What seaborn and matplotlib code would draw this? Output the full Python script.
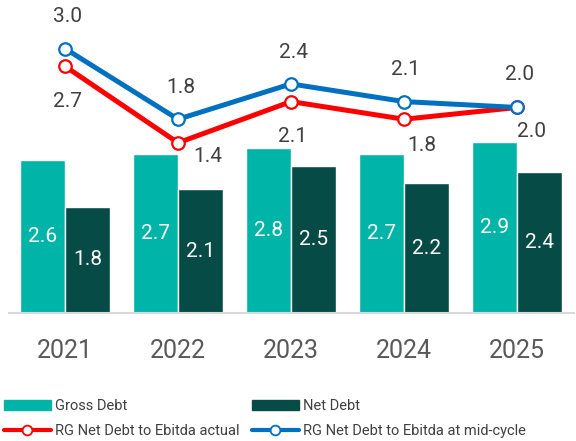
import numpy as np
import pandas as pd
import matplotlib
matplotlib.use("Agg")
import matplotlib.pyplot as plt
import seaborn as sns
from matplotlib.lines import Line2D
from matplotlib.patches import Patch

years = ["2021", "2022", "2023", "2024", "2025"]
gross_debt = [2.6, 2.7, 2.8, 2.7, 2.9]
net_debt = [1.8, 2.1, 2.5, 2.2, 2.4]
ratio_actual = [2.7, 1.4, 2.1, 1.8, 2.0]
ratio_midcycle = [3.0, 1.8, 2.4, 2.1, 2.0]

GROSS = "#00B5A8"
NET = "#064B45"
RED = "#FF0000"
BLUE = "#0070C0"
TXT = "#404040"

sns.set_style("white")
plt.rcParams["font.family"] = ["Roboto", "DejaVu Sans"]

bars = pd.DataFrame({
    "Year": years * 2,
    "Value": gross_debt + net_debt,
    "Series": ["Gross Debt"] * 5 + ["Net Debt"] * 5,
})

fig = plt.figure(figsize=(5.76, 4.41), dpi=100)
ax = fig.add_axes([8.5 / 576, 1 - 313 / 441, 565 / 576, 308 / 441])

sns.barplot(data=bars, x="Year", y="Value", hue="Series", palette=[GROSS, NET],
            width=0.8, saturation=1, legend=False, ax=ax)
ax.set_xlim(-0.5, 4.5)
ax.set_ylim(0, 5.23)
for c in ax.containers:
    ax.bar_label(c, fmt="%.1f", label_type="center", color="white", fontsize=15)

for s in ["top", "left", "right"]:
    ax.spines[s].set_visible(False)
ax.spines["bottom"].set_color("#d9d9d9")
ax.spines["bottom"].set_linewidth(1.5)
ax.set_yticks([])
ax.set_xlabel("")
ax.set_ylabel("")
ax.tick_params(axis="x", length=0, pad=19, labelsize=18, labelcolor="#595959")

# ratio lines on a shifted twin axis
ax2 = ax.twinx()
ax2.set_ylim(-1.49, 5.23 - 1.49)
x = np.arange(len(years))
for vals, col in [(ratio_actual, RED), (ratio_midcycle, BLUE)]:
    sns.lineplot(x=x, y=vals, color=col, linewidth=3.6, marker="o", markersize=9,
                 markerfacecolor="white", markeredgecolor=col, markeredgewidth=1.6,
                 ax=ax2)
ax2.axis("off")

# label offsets in px (dx, dy) relative to the point
red_off = [(2, 35), (30, 14), (2, 35), (18, 26), (15, 24)]
blue_off = [(2, -32), (3, -32), (3, -31), (2, -32), (3, -33)]
for vals, offs in [(ratio_actual, red_off), (ratio_midcycle, blue_off)]:
    for i, v in enumerate(vals):
        dx, dy = offs[i]
        ax2.annotate(f"{v:.1f}", (i, v), xytext=(dx * 0.72, -dy * 0.72),
                     textcoords="offset points", ha="center", va="center",
                     fontsize=15, color=TXT)

h_gross = Patch(color=GROSS, label="Gross Debt")
h_net = Patch(color=NET, label="Net Debt")
h_red = Line2D([], [], color=RED, lw=3, marker="o", ms=7, mfc="white", mec=RED,
               mew=1.3, label="RG Net Debt to Ebitda actual")
h_blue = Line2D([], [], color=BLUE, lw=3, marker="o", ms=7, mfc="white", mec=BLUE,
                mew=1.3, label="RG Net Debt to Ebitda at mid-cycle")

leg_kw = dict(frameon=False, fontsize=10.5, labelcolor=TXT, handlelength=3.2,
              handleheight=0.6, handletextpad=0.3, labelspacing=0.75,
              borderaxespad=0, borderpad=0, loc="lower left")
leg1 = fig.legend(handles=[h_gross, h_red], bbox_to_anchor=(4 / 576, 3 / 441), **leg_kw)
leg2 = fig.legend(handles=[h_net, h_blue], bbox_to_anchor=(252 / 576, 3 / 441), **leg_kw)

fig.savefig("out.png", dpi=100)
